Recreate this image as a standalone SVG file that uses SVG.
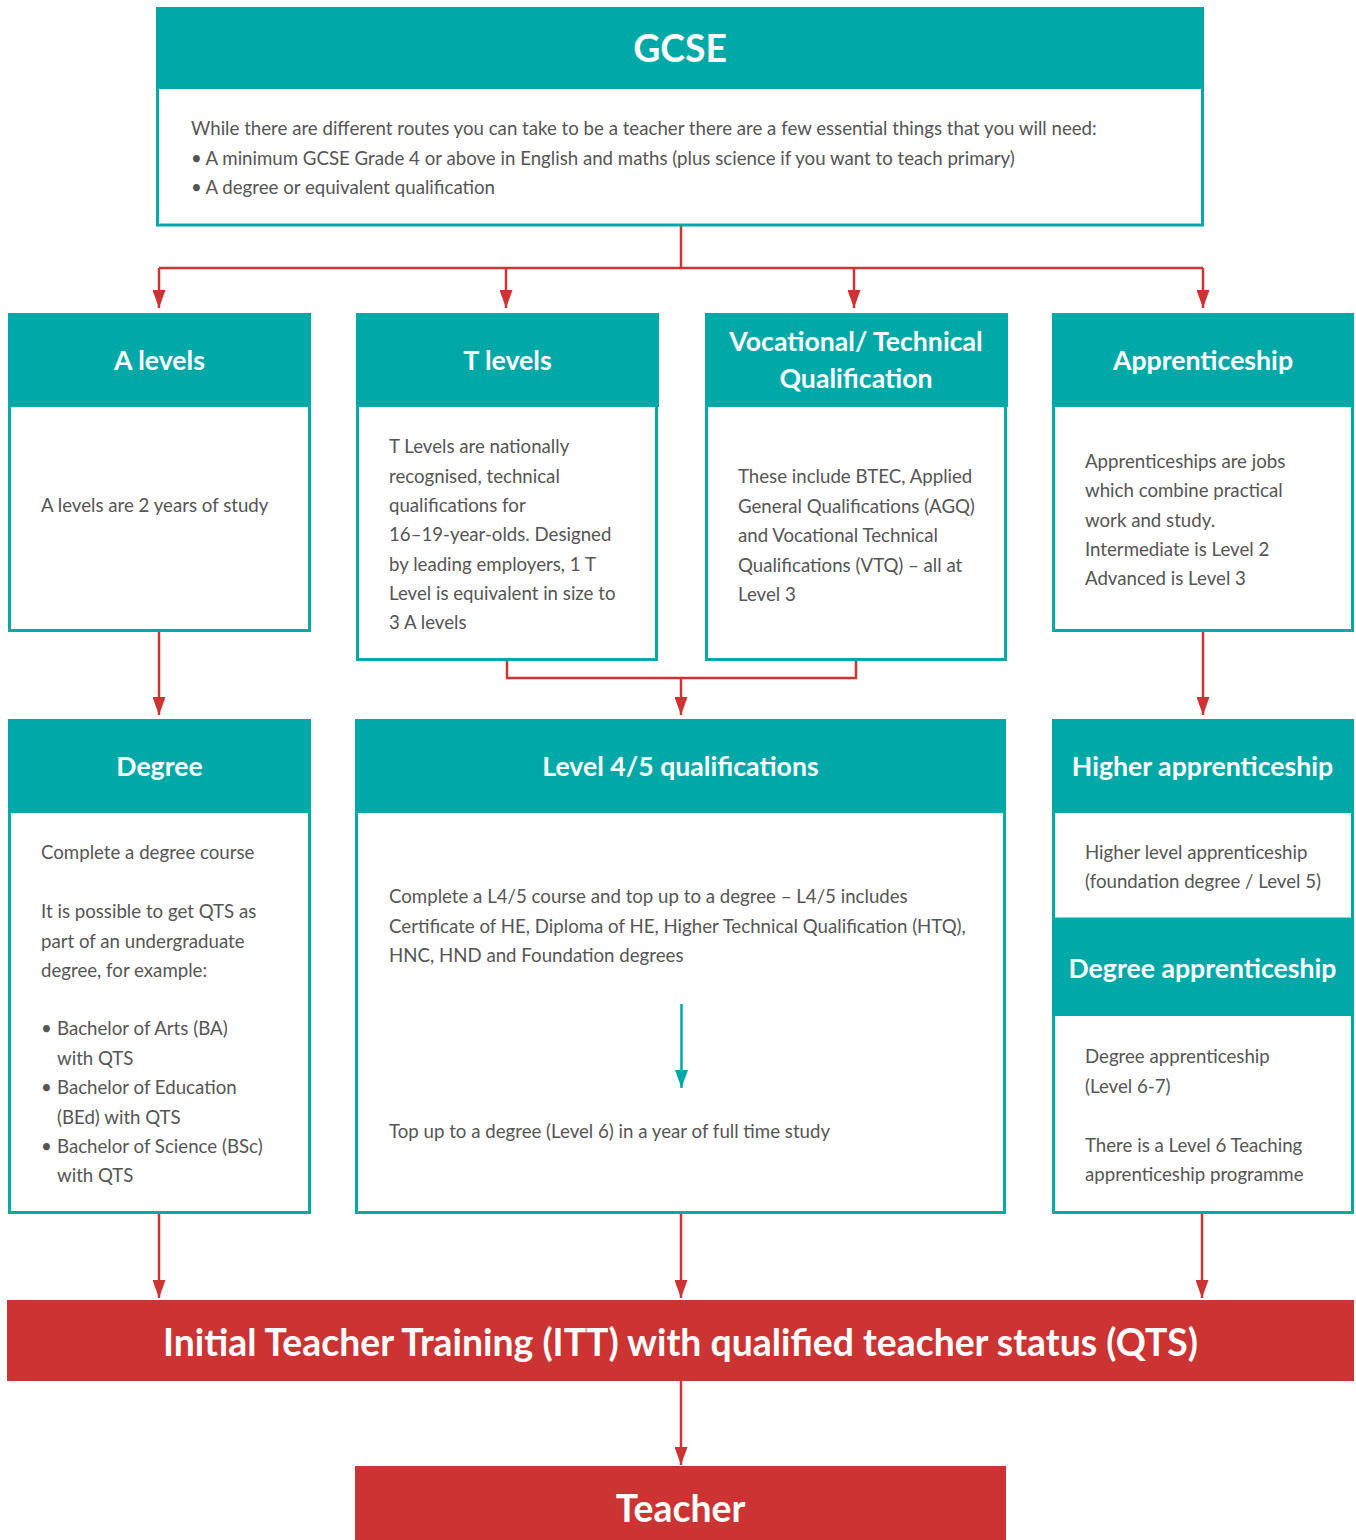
<svg xmlns="http://www.w3.org/2000/svg" width="1356" height="1540" viewBox="0 0 1356 1540">
<style>
.hd{fill:#00a9a8}
.bd{fill:#ffffff;stroke:#00a9a8;stroke-width:3}
.rd{fill:#cc3333}
.t{font-family:Lato,"Liberation Sans",sans-serif;font-weight:bold;font-size:26.67px;fill:#ffffff;text-anchor:middle}
.big{font-size:37.33px}
.b{font-family:Lato,"Liberation Sans",sans-serif;font-size:18.67px;fill:#555555}
.c{fill:none;stroke:#cc3333;stroke-width:2.5}
</style>
<defs>
<marker id="ar" viewBox="0 0 18 13" refX="18" refY="6.5" markerWidth="18" markerHeight="13" markerUnits="userSpaceOnUse" orient="auto">
<path d="M0,0 L18,6.5 L0,13 Z" fill="#cc3333"/>
</marker>
<marker id="at" viewBox="0 0 18 13" refX="18" refY="6.5" markerWidth="18" markerHeight="13" markerUnits="userSpaceOnUse" orient="auto">
<path d="M0,0 L18,6.5 L0,13 Z" fill="#00a9a8"/>
</marker>
</defs>
<rect width="1356" height="1540" fill="#ffffff"/>

<g id="connectors">
<path class="c" d="M681,226 V268 M159,268 H1203"/>
<path class="c" d="M159,268 V308" marker-end="url(#ar)"/>
<path class="c" d="M506,268 V308" marker-end="url(#ar)"/>
<path class="c" d="M854,268 V308" marker-end="url(#ar)"/>
<path class="c" d="M1203,268 V308" marker-end="url(#ar)"/>
<path class="c" d="M159,632 V715" marker-end="url(#ar)"/>
<path class="c" d="M507,661 V678 H856 V661"/>
<path class="c" d="M681,678 V715" marker-end="url(#ar)"/>
<path class="c" d="M1203,632 V715" marker-end="url(#ar)"/>
<path class="c" d="M159,1214 V1298" marker-end="url(#ar)"/>
<path class="c" d="M681,1214 V1298" marker-end="url(#ar)"/>
<path class="c" d="M1202,1214 V1298" marker-end="url(#ar)"/>
<path class="c" d="M681,1381 V1465" marker-end="url(#ar)"/>
</g>

<g id="gcse">
<rect class="bd" x="157.5" y="87" width="1045" height="138"/>
<rect class="hd" x="156" y="7" width="1048" height="82"/>
<text class="t big" x="680" y="62">GCSE</text>
<text class="b" x="191" y="135">While there are different routes you can take to be a teacher there are a few essential things that you will need:</text>
<text class="b" y="164.5"><tspan x="191">•</tspan><tspan x="205.5">A minimum GCSE Grade 4 or above in English and maths (plus science if you want to teach primary)</tspan></text>
<text class="b" y="194"><tspan x="191">•</tspan><tspan x="205.5">A degree or equivalent qualification</tspan></text>
</g>

<g id="alevels">
<rect class="bd" x="9.5" y="405" width="300" height="225.5"/>
<rect class="hd" x="8" y="313" width="303" height="94"/>
<text class="t" x="159.5" y="370">A levels</text>
<text class="b" x="41" y="512">A levels are 2 years of study</text>
</g>

<g id="tlevels">
<rect class="bd" x="357.5" y="405" width="299" height="254.5"/>
<rect class="hd" x="356" y="313" width="303" height="94"/>
<text class="t" x="507.5" y="370">T levels</text>
<text class="b" x="389" y="453">T Levels are nationally</text>
<text class="b" x="389" y="482.5">recognised, technical</text>
<text class="b" x="389" y="512">qualifications for</text>
<text class="b" x="389" y="541">16–19-year-olds. Designed</text>
<text class="b" x="389" y="570.5">by leading employers, 1 T</text>
<text class="b" x="389" y="600">Level is equivalent in size to</text>
<text class="b" x="389" y="629">3 A levels</text>
</g>

<g id="vocational">
<rect class="bd" x="706.5" y="405" width="299" height="254.5"/>
<rect class="hd" x="705" y="313" width="303" height="94"/>
<text class="t" x="856" y="351">Vocational/ Technical</text>
<text class="t" x="856" y="388">Qualification</text>
<text class="b" x="738" y="483">These include BTEC, Applied</text>
<text class="b" x="738" y="512.5">General Qualifications (AGQ)</text>
<text class="b" x="738" y="542">and Vocational Technical</text>
<text class="b" x="738" y="571.5">Qualifications (VTQ) – all at</text>
<text class="b" x="738" y="601">Level 3</text>
</g>

<g id="apprenticeship">
<rect class="bd" x="1053.5" y="405" width="299" height="225.5"/>
<rect class="hd" x="1052" y="313" width="302" height="94"/>
<text class="t" x="1203" y="370">Apprenticeship</text>
<text class="b" x="1085" y="468">Apprenticeships are jobs</text>
<text class="b" x="1085" y="497">which combine practical</text>
<text class="b" x="1085" y="527">work and study.</text>
<text class="b" x="1085" y="556">Intermediate is Level 2</text>
<text class="b" x="1085" y="585">Advanced is Level 3</text>
</g>

<g id="degree">
<rect class="bd" x="9.5" y="811" width="300" height="401.5"/>
<rect class="hd" x="8" y="719" width="303" height="94"/>
<text class="t" x="159.5" y="776">Degree</text>
<text class="b" x="41" y="859">Complete a degree course</text>
<text class="b" x="41" y="918">It is possible to get QTS as</text>
<text class="b" x="41" y="947.5">part of an undergraduate</text>
<text class="b" x="41" y="977">degree, for example:</text>
<text class="b" y="1035"><tspan x="41">•</tspan><tspan x="57">Bachelor of Arts (BA)</tspan></text>
<text class="b" x="57" y="1064.5">with QTS</text>
<text class="b" y="1094"><tspan x="41">•</tspan><tspan x="57">Bachelor of Education</tspan></text>
<text class="b" x="57" y="1123.5">(BEd) with QTS</text>
<text class="b" y="1153"><tspan x="41">•</tspan><tspan x="57">Bachelor of Science (BSc)</tspan></text>
<text class="b" x="57" y="1182">with QTS</text>
</g>

<g id="level45">
<rect class="bd" x="356.5" y="811" width="648" height="401.5"/>
<rect class="hd" x="355" y="719" width="651" height="94"/>
<text class="t" x="680.5" y="776">Level 4/5 qualifications</text>
<text class="b" x="389" y="903">Complete a L4/5 course and top up to a degree – L4/5 includes</text>
<text class="b" x="389" y="932.5">Certificate of HE, Diploma of HE, Higher Technical Qualification (HTQ),</text>
<text class="b" x="389" y="962">HNC, HND and Foundation degrees</text>
<path d="M681.5,1004 V1088" fill="none" stroke="#00a9a8" stroke-width="2.5" marker-end="url(#at)"/>
<text class="b" x="389" y="1138">Top up to a degree (Level 6) in a year of full time study</text>
</g>

<g id="higher-apprenticeship">
<rect class="bd" x="1053.5" y="811" width="299" height="108"/>
<rect class="hd" x="1052" y="719" width="302" height="94"/>
<text class="t" x="1202.5" y="776">Higher apprenticeship</text>
<text class="b" x="1085" y="858.5">Higher level apprenticeship</text>
<text class="b" x="1085" y="888">(foundation degree / Level 5)</text>
</g>

<g id="degree-apprenticeship">
<rect class="bd" x="1053.5" y="1014" width="299" height="198.5"/>
<rect class="hd" x="1052" y="920" width="302" height="96"/>
<text class="t" x="1202.5" y="978">Degree apprenticeship</text>
<text class="b" x="1085" y="1063">Degree apprenticeship</text>
<text class="b" x="1085" y="1092.5">(Level 6-7)</text>
<text class="b" x="1085" y="1152">There is a Level 6 Teaching</text>
<text class="b" x="1085" y="1181">apprenticeship programme</text>
</g>

<g id="itt">
<rect class="rd" x="7" y="1300" width="1347" height="81"/>
<text class="t big" x="680.5" y="1356">Initial Teacher Training (ITT) with qualified teacher status (QTS)</text>
</g>

<g id="teacher">
<rect class="rd" x="355" y="1466" width="651" height="74"/>
<text class="t big" x="680.5" y="1522">Teacher</text>
</g>
</svg>
